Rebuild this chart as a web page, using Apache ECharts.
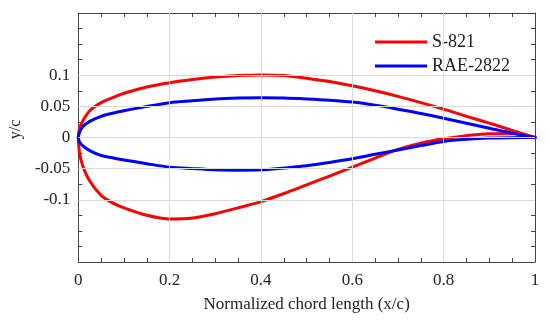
<!DOCTYPE html>
<html>
<head>
<meta charset="utf-8">
<script src="https://cdn.jsdelivr.net/npm/echarts@6/dist/echarts.min.js"></script>
<style>html,body{margin:0;padding:0;background:#fff;}#c{width:550px;height:325px;}</style>
</head>
<body>
<div id="c"></div>
<script>
// Chord stations (x/c)
const stations = [0, 0.0025, 0.01, 0.025, 0.05, 0.075, 0.1, 0.15, 0.2, 0.25, 0.3, 0.35, 0.4, 0.45, 0.5, 0.55, 0.6, 0.65, 0.7, 0.75, 0.8, 0.85, 0.9, 0.95, 1];
// S-821
const s821Upper = [0, 0.014, 0.027, 0.043, 0.056, 0.064, 0.071, 0.081, 0.088, 0.093, 0.097, 0.0995, 0.1005, 0.0995, 0.095, 0.090, 0.083, 0.075, 0.066, 0.056, 0.0455, 0.034, 0.023, 0.0115, 0];
const s821Lower = [0, -0.024, -0.046, -0.070, -0.093, -0.105, -0.113, -0.125, -0.131, -0.1295, -0.1225, -0.113, -0.103, -0.090, -0.076, -0.062, -0.0476, -0.033, -0.019, -0.009, -0.002, 0.003, 0.006, 0.006, 0];
// RAE-2822
const raeUpper = [0, 0.008, 0.0177, 0.026, 0.034, 0.039, 0.043, 0.050, 0.056, 0.059, 0.062, 0.0635, 0.064, 0.0635, 0.062, 0.060, 0.057, 0.052, 0.0455, 0.0385, 0.031, 0.023, 0.015, 0.007, 0];
const raeLower = [0, -0.007, -0.0134, -0.021, -0.029, -0.0326, -0.036, -0.042, -0.0476, -0.050, -0.052, -0.0525, -0.052, -0.049, -0.0455, -0.040, -0.034, -0.027, -0.020, -0.013, -0.0064, -0.003, -0.001, -0.0003, 0];

const seriesNames = ['S-821', 'RAE-2822'];
const xGridValues = [0.2, 0.4, 0.6, 0.8];
const yGridValues = [-0.1, -0.05, 0, 0.05, 0.1];
const xTickLabels = ['0', '0.2', '0.4', '0.6', '0.8', '1'];
const yTickLabels = ['-0.1', '-0.05', '0', '0.05', '0.1'];

function pts(ys) { return stations.map((x, i) => [x, ys[i]]); }

const FONT = 'Liberation Serif';
const axisCol = '#444';

function surface(name, ys, color, z) {
  return {
    type: 'line', name: name, data: pts(ys),
    smooth: 0.3, showSymbol: false, symbol: 'none', z: z,
    lineStyle: {color: color, width: 3, cap: 'round', join: 'round'}, itemStyle: {color: color}
  };
}

const chart = echarts.init(document.getElementById('c'), null, {renderer: 'canvas'});
chart.setOption({
  animation: false,
  backgroundColor: '#fff',
  grid: {left: 77, right: 15, top: 13, bottom: 63, containLabel: false},
  legend: {
    orient: 'vertical', left: 375, top: 33, padding: 0,
    itemWidth: 52, itemHeight: 3, itemGap: 6, icon: 'rect',
    textStyle: {fontFamily: FONT, fontSize: 18, color: '#222', lineHeight: 18},
    data: seriesNames
  },
  xAxis: [{
    type: 'value', min: 0, max: 1, interval: 0.05, position: 'bottom',
    name: 'Normalized chord length (x/c)', nameLocation: 'middle', nameGap: 34,
    nameTextStyle: {fontFamily: FONT, fontSize: 17, color: '#222'},
    axisLine: {show: true, onZero: false, lineStyle: {color: axisCol, width: 1}},
    axisTick: {show: true, inside: true, length: 4, lineStyle: {color: axisCol}},
    axisLabel: {
      fontFamily: FONT, fontSize: 17, color: '#222', margin: 10,
      formatter: v => { const k = Math.round(v * 100); const s = String(k / 100); return (k % 20 === 0 && xTickLabels.includes(s)) ? s : ''; }
    },
    splitLine: {show: false}
  }, {
    type: 'value', min: 0, max: 1, interval: 0.05, position: 'top',
    axisLine: {show: true, onZero: false, lineStyle: {color: axisCol, width: 1}},
    axisTick: {show: true, inside: true, length: 4, lineStyle: {color: axisCol}},
    axisLabel: {show: false}, splitLine: {show: false}
  }],
  yAxis: [{
    type: 'value', min: -0.2, max: 0.2, interval: 0.025, position: 'left',
    name: 'y/c', nameLocation: 'middle', nameGap: 52, nameRotate: 90,
    nameTextStyle: {fontFamily: FONT, fontSize: 16, color: '#222', padding: [0, 0, 0, 16]},
    axisLine: {show: true, onZero: false, lineStyle: {color: axisCol, width: 1}},
    axisTick: {show: true, inside: true, length: 4, lineStyle: {color: axisCol}},
    axisLabel: {
      fontFamily: FONT, fontSize: 17, color: '#222', margin: 8,
      formatter: v => { const k = Math.round(v * 1000); const s = String(k / 1000); return yTickLabels.includes(s) ? s : ''; }
    },
    splitLine: {show: false}
  }, {
    type: 'value', min: -0.2, max: 0.2, interval: 0.025, position: 'right',
    axisLine: {show: true, onZero: false, lineStyle: {color: axisCol, width: 1}},
    axisTick: {show: true, inside: true, length: 4, lineStyle: {color: axisCol}},
    axisLabel: {show: false}, splitLine: {show: false}
  }],
  series: [{
    type: 'line', name: '_grid', data: [], z: 1, silent: true,
    markLine: {
      silent: true, symbol: ['none', 'none'], label: {show: false}, animation: false,
      lineStyle: {color: '#dadada', type: 'solid', width: 1},
      data: xGridValues.map(v => ({xAxis: v})).concat(yGridValues.map(v => ({yAxis: v})))
    }
  },
    surface(seriesNames[0], s821Upper, '#ff0000', 3),
    surface(seriesNames[0], s821Lower, '#ff0000', 3),
    surface(seriesNames[1], raeUpper, '#0000ff', 4),
    surface(seriesNames[1], raeLower, '#0000ff', 4)
  ]
});
</script>
</body>
</html>
